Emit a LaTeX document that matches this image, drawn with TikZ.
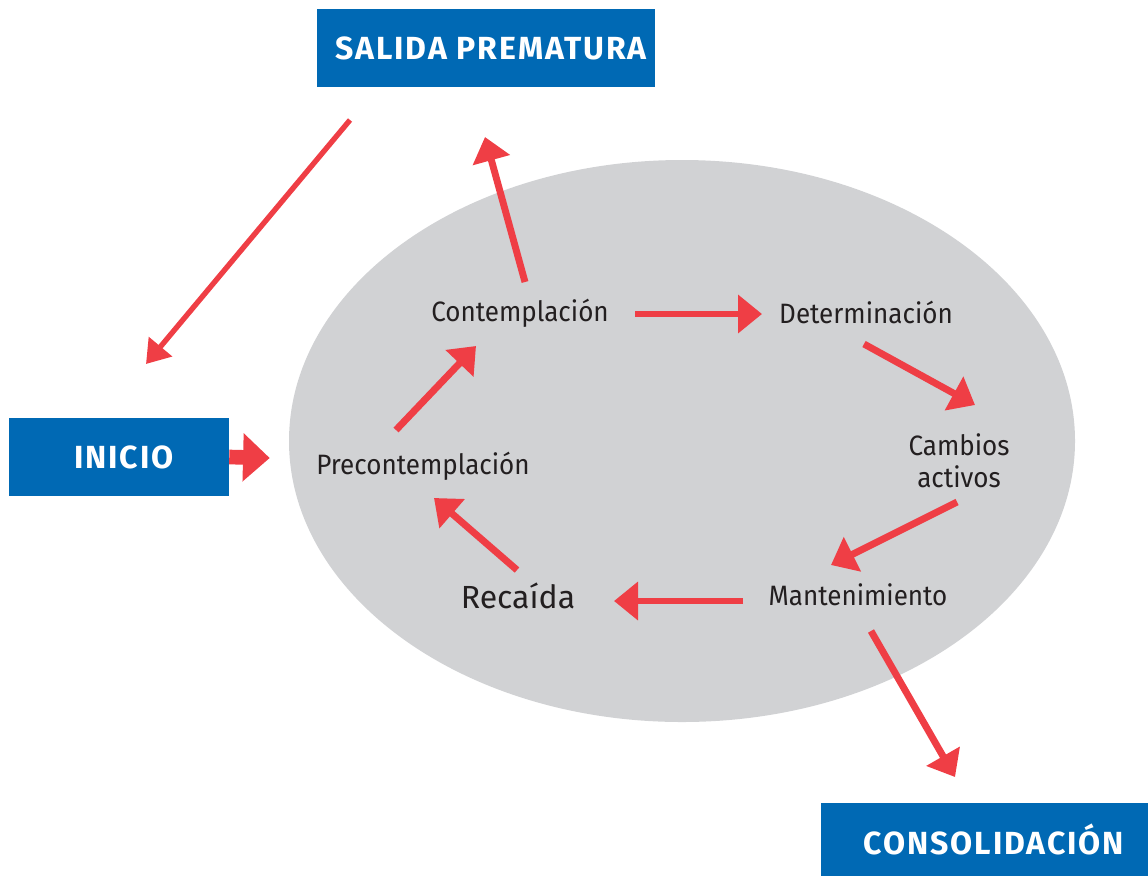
\documentclass[tikz,border=0pt]{standalone}
\usepackage{fontspec}
\setmainfont{Fira Sans}
\newfontfamily\labelfont[FakeStretch=0.93]{Fira Sans}
\newfontfamily\boxfont[LetterSpace=6]{Fira Sans}
\usetikzlibrary{arrows.meta, shapes.geometric}
\definecolor{boxblue}{HTML}{0069B4}
\definecolor{arrowred}{HTML}{EF3E45}
\definecolor{cyclegray}{HTML}{D1D2D4}
\definecolor{textdark}{HTML}{231F20}
\tikzset{
  stagebox/.style={fill=boxblue, text=white, font=\boxfont\fontsize{24}{28}\selectfont\bfseries, inner sep=0pt},
  stagelabel/.style={text=textdark, font=\labelfont\fontsize{21}{24}\selectfont, align=center, inner sep=0pt},
  flow/.style={draw=arrowred, line width=5.2pt, -{Triangle[length=18pt, width=28pt]}},
}
\begin{document}
\begin{tikzpicture}[x=0.75pt, y=-0.75pt]
  \useasboundingbox (0,0) rectangle (1148,876);

  % Ciclo
  \node[ellipse, fill=cyclegray, minimum width=589.5pt, minimum height=421.5pt, inner sep=0pt] (ciclo) at (682,441) {};

  % Cajas externas
  \node[stagebox, minimum width=253.5pt, minimum height=58.5pt] (salida) at (486,48) {\hspace*{7.5pt}SALIDA PREMATURA};
  \node[stagebox, minimum width=165pt, minimum height=58.5pt] (inicio) at (119,457) {\hspace*{7.5pt}INICIO};
  \node[stagebox, minimum width=245.25pt, minimum height=54.75pt] (consol) at (984.5,839.5) {\hspace*{14pt}CONSOLIDACIÓN};

  % Etapas
  \node[stagelabel] (contemp) at (520,313) {Contemplación};
  \node[stagelabel] (determ) at (866,312) {Determinación};
  \node[stagelabel] (cambios) at (959,461) {Cambios\\activos};
  \node[stagelabel] (manten) at (858,595) {Mantenimiento};
  \node[stagelabel, font=\fontsize{24}{28}\selectfont] (recaida) at (518,596) {Recaída};
  \node[stagelabel] (precont) at (423,466) {Precontemplación};

  % Flechas
  \draw[flow, line width=4pt, -{Triangle[length=17pt, width=22pt]}]
    ([shift={(-136,72)}]salida.center) -- ([shift={(27,-93)}]inicio.center);
  \draw[flow, line width=11pt, -{Triangle[length=20pt, width=35pt]}]
    (inicio.east) -- ([shift={(-19,17)}]ciclo.west);
  \draw[flow] ([shift={(5,-31)}]contemp.center) -- ([shift={(-1,89)}]salida.center);
  \draw[flow] ([shift={(115,1)}]contemp.center) -- ([shift={(-104,2)}]determ.center);
  \draw[flow] ([shift={(-2,32)}]determ.center) -- ([shift={(16,-56)}]cambios.center);
  \draw[flow] ([shift={(-2,41)}]cambios.center) -- ([shift={(-27,-30)}]manten.center);
  \draw[flow] ([shift={(-115,6)}]manten.center) -- ([shift={(96,5)}]recaida.center);
  \draw[flow] ([shift={(-1,-26)}]recaida.center) -- ([shift={(11,32)}]precont.center);
  \draw[flow] ([shift={(-27,-36)}]precont.center) -- ([shift={(-44,33)}]contemp.center);
  \draw[flow] ([shift={(13,36)}]manten.center) -- ([shift={(-29.5,-62.5)}]consol.center);
\end{tikzpicture}
\end{document}
